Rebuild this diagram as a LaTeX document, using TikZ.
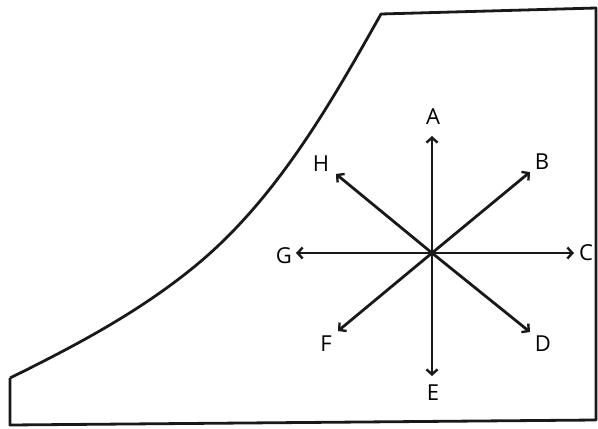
\documentclass[tikz,border=0pt]{standalone}
\usepackage{fontspec}
\setmainfont{Open Sans}
\usetikzlibrary{arrows.meta}
\begin{document}
\begin{tikzpicture}[x=1pt,y=-1pt,
  outline/.style={line width=2.8pt,line join=round,black!90},
  dirarrow/.style={line width=2.8pt,black!90,-{Straight Barb[length=5pt,width=11pt,line width=2.4pt]}},
  lbl/.style={font=\fontsize{22}{24}\selectfont,inner sep=0pt}]
\useasboundingbox (0,0) rectangle (598,429);
\fill[white] (0,0) rectangle (598,429);
% outline of the shape
\draw[outline] (10,378) -- (10,425) -- (596,420) -- (596,8) -- (381,14)
  .. controls (331,103) and (278,196) .. (200,262)
  .. controls (143,310) and (77,345) .. (10,378);
% centre
\coordinate (O) at (432,253);
\coordinate (tA) at (432,136);
\coordinate (tB) at (530,172);
\coordinate (tC) at (574,253);
\coordinate (tD) at (530,332);
\coordinate (tE) at (432,376);
\coordinate (tF) at (338,331);
\coordinate (tG) at (296,253);
\coordinate (tH) at (336,174);
\foreach \t in {A,B,C,D,E,F,G,H} \draw[dirarrow] (O) -- (t\t);
\node[lbl] (A) at (433,117) {A};
\node[lbl] (B) at (542,162) {B};
\node[lbl] (C) at (586,253) {C};
\node[lbl] (D) at (543,344) {D};
\node[lbl] (E) at (433,393) {E};
\node[lbl] (F) at (326,344) {F};
\node[lbl] (G) at (284,256) {G};
\node[lbl] (H) at (321,164) {H};
\end{tikzpicture}
\end{document}
